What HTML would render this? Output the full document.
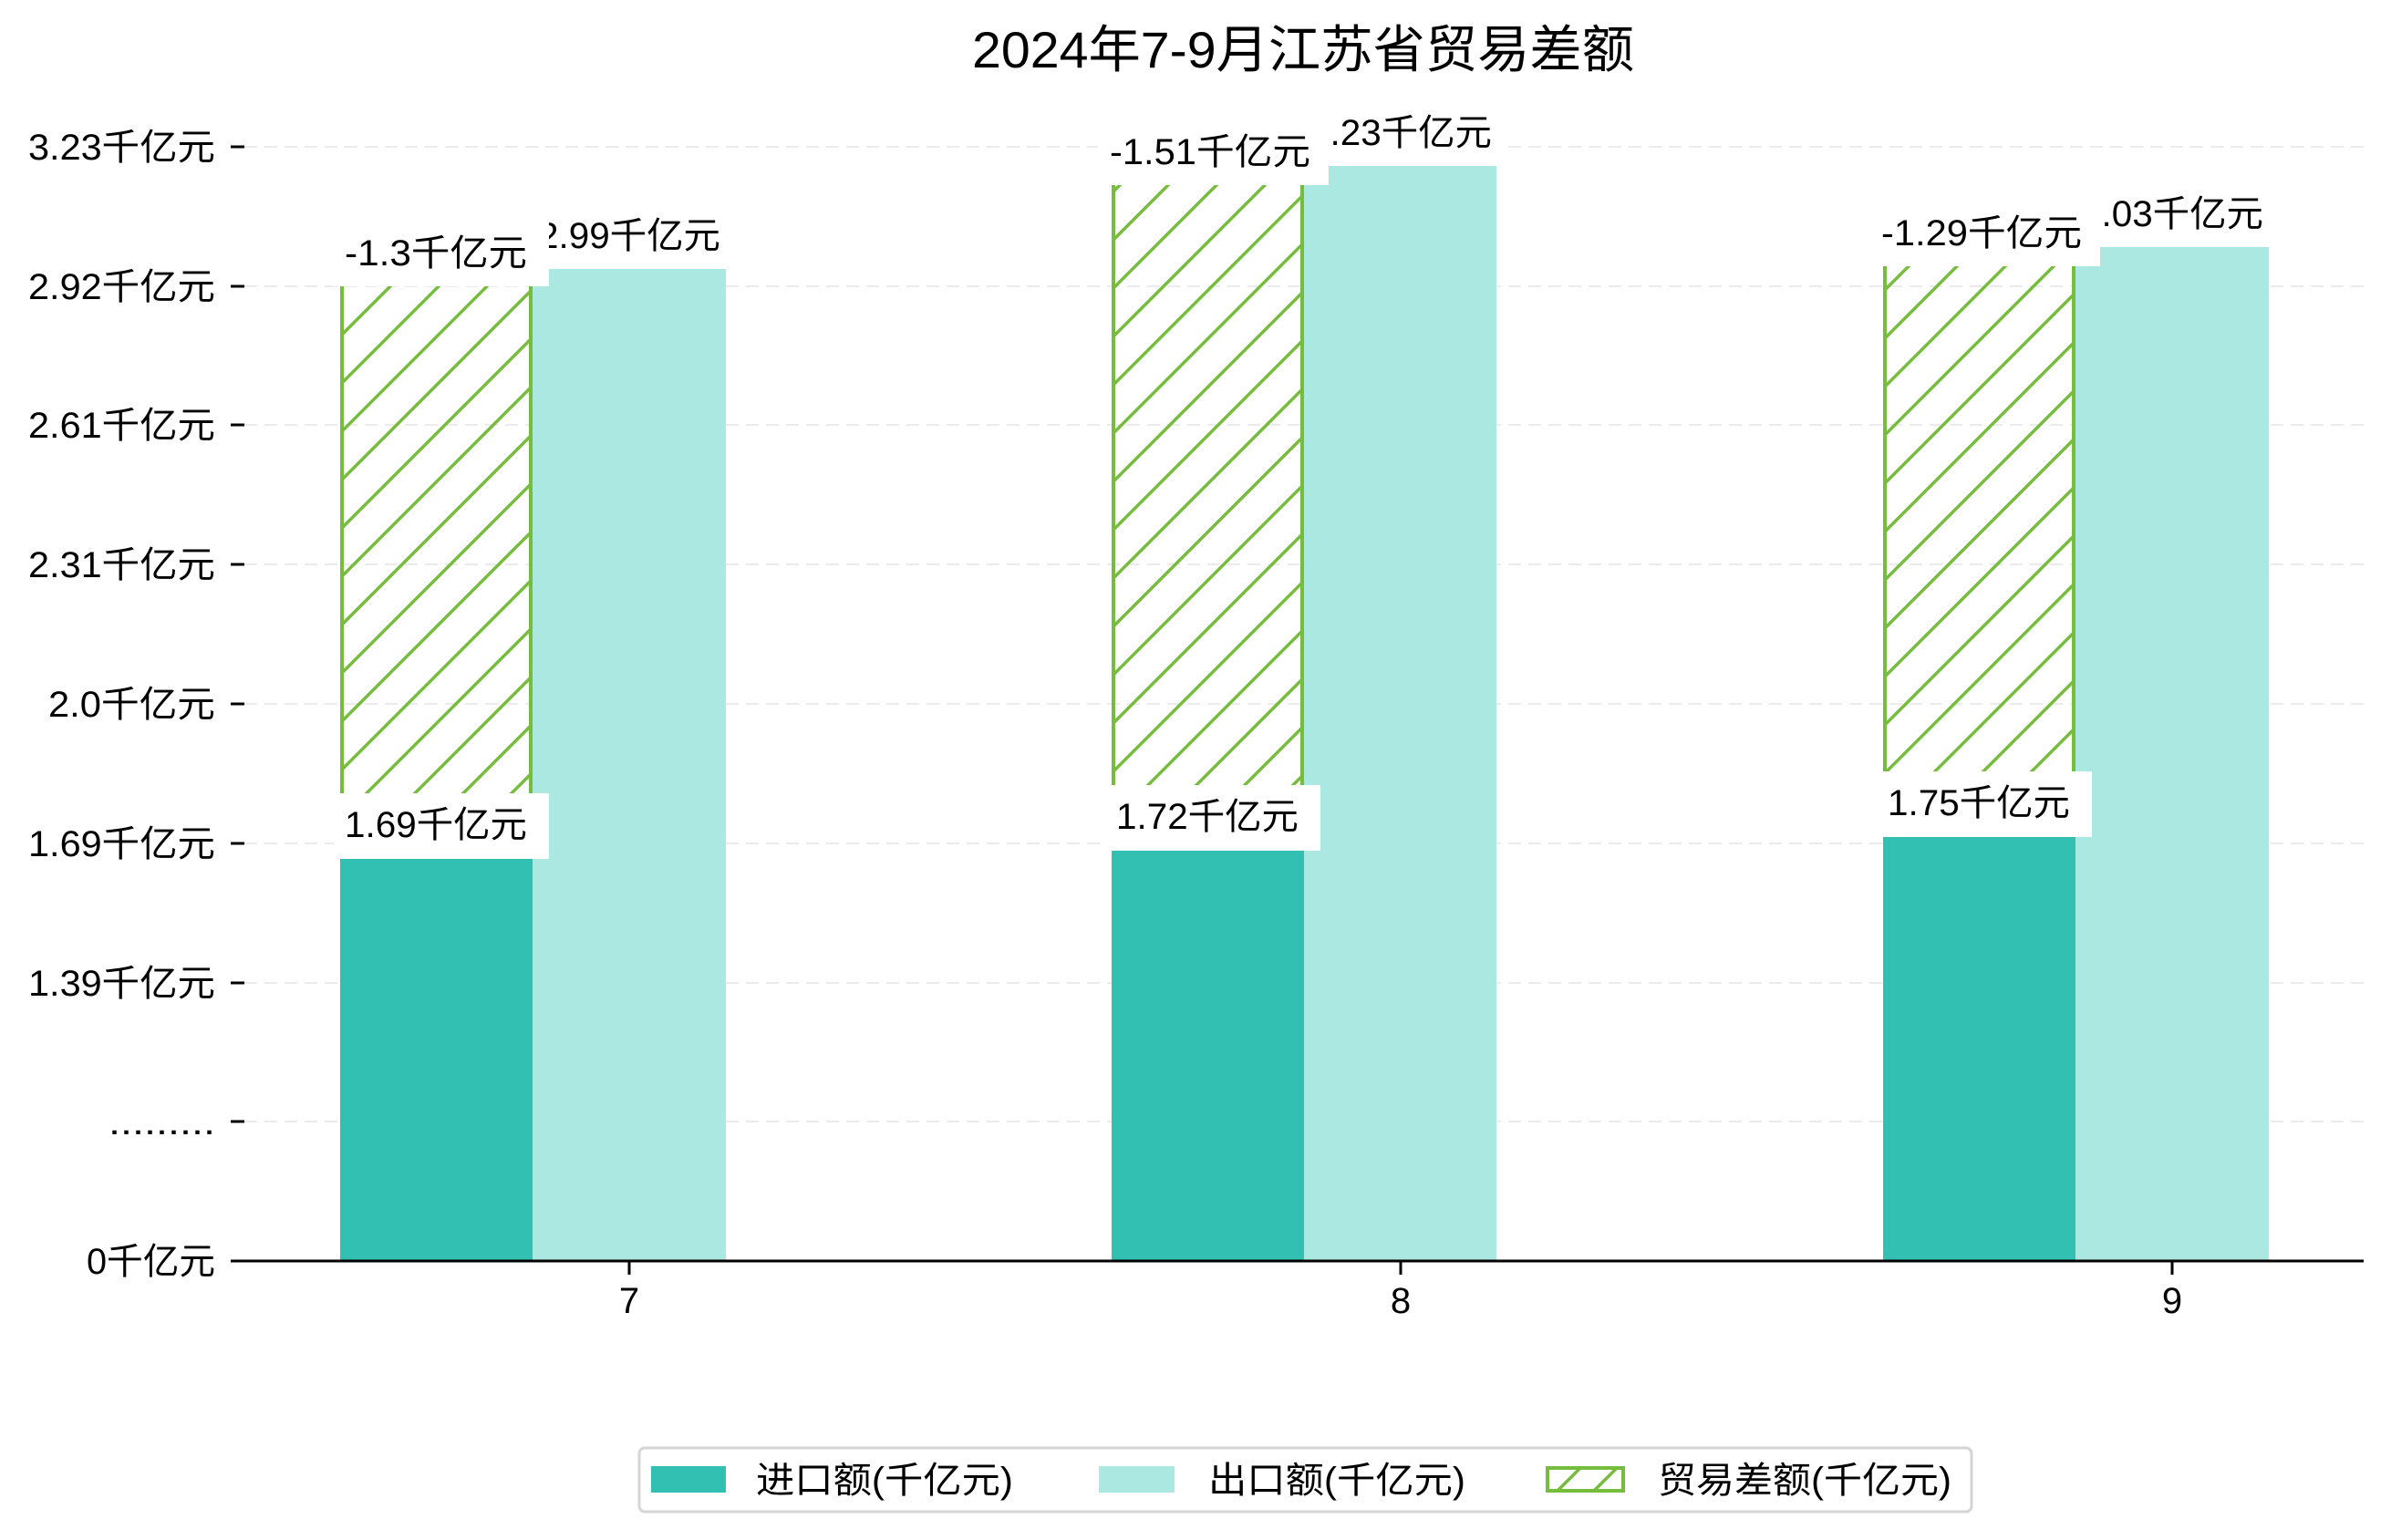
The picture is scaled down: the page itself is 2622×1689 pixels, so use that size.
<!DOCTYPE html>
<html><head><meta charset="utf-8"><style>
html,body{margin:0;padding:0;background:#fff;}
svg{display:block;}
text{font-family:"Liberation Sans","Noto Sans CJK SC",sans-serif;fill:#000;}
</style></head><body>
<svg width="2622" height="1689" viewBox="0 0 2622 1689" xmlns="http://www.w3.org/2000/svg">
<defs>
<pattern id="h" patternUnits="userSpaceOnUse" width="53" height="53">
<path d="M-5,58 L58,-5 M-5,5 L5,-5 M48,58 L58,48" stroke="#76bd3e" stroke-width="3.5" fill="none"/>
</pattern>
<pattern id="hl" patternUnits="userSpaceOnUse" width="40" height="40" x="1695" y="1608">
<path d="M-5,45 L45,-5" stroke="#76bd3e" stroke-width="3.5" fill="none"/>
</pattern>
</defs>
<rect width="2622" height="1689" fill="#fff"/>
<text x="1429" y="74" font-size="56" text-anchor="middle" textLength="726" lengthAdjust="spacingAndGlyphs">2024年7-9月江苏省贸易差额</text>

<g stroke="#ebebeb" stroke-width="2" stroke-dasharray="14,8">
<line x1="268" x2="2592" y1="161" y2="161"/>
<line x1="268" x2="2592" y1="314" y2="314"/>
<line x1="268" x2="2592" y1="466" y2="466"/>
<line x1="268" x2="2592" y1="619" y2="619"/>
<line x1="268" x2="2592" y1="772" y2="772"/>
<line x1="268" x2="2592" y1="925" y2="925"/>
<line x1="268" x2="2592" y1="1078" y2="1078"/>
<line x1="268" x2="2592" y1="1230" y2="1230"/>
</g>
<g stroke="#000" stroke-width="3">
<line x1="253" x2="268" y1="161" y2="161"/>
<line x1="253" x2="268" y1="314" y2="314"/>
<line x1="253" x2="268" y1="466" y2="466"/>
<line x1="253" x2="268" y1="619" y2="619"/>
<line x1="253" x2="268" y1="772" y2="772"/>
<line x1="253" x2="268" y1="925" y2="925"/>
<line x1="253" x2="268" y1="1078" y2="1078"/>
<line x1="253" x2="268" y1="1230" y2="1230"/>
<line x1="690" x2="690" y1="1383" y2="1398"/>
<line x1="1536" x2="1536" y1="1383" y2="1398"/>
<line x1="2382" x2="2382" y1="1383" y2="1398"/>
</g>
<g font-size="40" text-anchor="end">
<text x="236" y="175" textLength="205" lengthAdjust="spacingAndGlyphs">3.23千亿元</text>
<text x="236" y="328" textLength="205" lengthAdjust="spacingAndGlyphs">2.92千亿元</text>
<text x="236" y="480" textLength="205" lengthAdjust="spacingAndGlyphs">2.61千亿元</text>
<text x="236" y="633" textLength="205" lengthAdjust="spacingAndGlyphs">2.31千亿元</text>
<text x="236" y="786" textLength="183" lengthAdjust="spacingAndGlyphs">2.0千亿元</text>
<text x="236" y="939" textLength="205" lengthAdjust="spacingAndGlyphs">1.69千亿元</text>
<text x="236" y="1092" textLength="205" lengthAdjust="spacingAndGlyphs">1.39千亿元</text>
<text x="236" y="1244" textLength="117" lengthAdjust="spacingAndGlyphs">.........</text>
<text x="236" y="1397" textLength="141" lengthAdjust="spacingAndGlyphs">0千亿元</text>
</g>
<g font-size="40" text-anchor="middle">
<text x="690" y="1440">7</text>
<text x="1536" y="1440">8</text>
<text x="2382" y="1440">9</text>
</g>

<g>
<rect x="373" y="942" width="211" height="441" fill="#32c0b3"/>
<rect x="584" y="295" width="212" height="1088" fill="#aae8e1"/>
<rect x="375" y="314" width="207" height="628" fill="url(#h)"/>
<line x1="375" x2="375" y1="314" y2="942" stroke="#76bd3e" stroke-width="4"/>
<line x1="582" x2="582" y1="314" y2="942" stroke="#76bd3e" stroke-width="4"/>

<rect x="1219" y="933" width="211" height="450" fill="#32c0b3"/>
<rect x="1430" y="182" width="211" height="1201" fill="#aae8e1"/>
<rect x="1221" y="197" width="207" height="736" fill="url(#h)"/>
<line x1="1221" x2="1221" y1="197" y2="933" stroke="#76bd3e" stroke-width="4"/>
<line x1="1428" x2="1428" y1="197" y2="933" stroke="#76bd3e" stroke-width="4"/>

<rect x="2065" y="918" width="211" height="465" fill="#32c0b3"/>
<rect x="2276" y="271" width="212" height="1112" fill="#aae8e1"/>
<rect x="2067" y="292" width="207" height="626" fill="url(#h)"/>
<line x1="2067" x2="2067" y1="292" y2="918" stroke="#76bd3e" stroke-width="4"/>
<line x1="2274" x2="2274" y1="292" y2="918" stroke="#76bd3e" stroke-width="4"/>
</g>
<line x1="253" x2="2592" y1="1383" y2="1383" stroke="#000" stroke-width="3"/>

<g font-size="40" text-anchor="middle">
<rect x="572" y="223" width="236" height="72" fill="#fff"/>
<text x="690" y="272" textLength="200" lengthAdjust="spacingAndGlyphs">2.99千亿元</text>
<rect x="366" y="242" width="236" height="72" fill="#fff"/>
<text x="478" y="291" textLength="200" lengthAdjust="spacingAndGlyphs">-1.3千亿元</text>
<rect x="366" y="870" width="236" height="72" fill="#fff"/>
<text x="478" y="918" textLength="200" lengthAdjust="spacingAndGlyphs">1.69千亿元</text>

<rect x="1418" y="110" width="236" height="72" fill="#fff"/>
<text x="1536" y="159" textLength="200" lengthAdjust="spacingAndGlyphs">3.23千亿元</text>
<rect x="1204" y="131" width="253" height="72" fill="#fff"/>
<text x="1327" y="180" textLength="220" lengthAdjust="spacingAndGlyphs">-1.51千亿元</text>
<rect x="1212" y="861" width="236" height="72" fill="#fff"/>
<text x="1324" y="909" textLength="200" lengthAdjust="spacingAndGlyphs">1.72千亿元</text>

<rect x="2264" y="199" width="236" height="72" fill="#fff"/>
<text x="2382" y="248" textLength="200" lengthAdjust="spacingAndGlyphs">3.03千亿元</text>
<rect x="2050" y="220" width="253" height="72" fill="#fff"/>
<text x="2173" y="269" textLength="220" lengthAdjust="spacingAndGlyphs">-1.29千亿元</text>
<rect x="2058" y="846" width="236" height="72" fill="#fff"/>
<text x="2170" y="894" textLength="200" lengthAdjust="spacingAndGlyphs">1.75千亿元</text>
</g>

<rect x="701" y="1588" width="1461" height="70" rx="6" fill="#fff" stroke="#d5d5d5" stroke-width="3"/>
<rect x="714" y="1608" width="82" height="29" fill="#32c0b3"/>
<rect x="1205" y="1608" width="83" height="29" fill="#aae8e1"/>
<rect x="1697" y="1610" width="83" height="25" fill="url(#hl)" stroke="#76bd3e" stroke-width="4"/>
<g font-size="40">
<text x="829" y="1637" textLength="282" lengthAdjust="spacingAndGlyphs">进口额(千亿元)</text>
<text x="1325" y="1637" textLength="282" lengthAdjust="spacingAndGlyphs">出口额(千亿元)</text>
<text x="1818" y="1637" textLength="322" lengthAdjust="spacingAndGlyphs">贸易差额(千亿元)</text>
</g>
</svg>
</body></html>
